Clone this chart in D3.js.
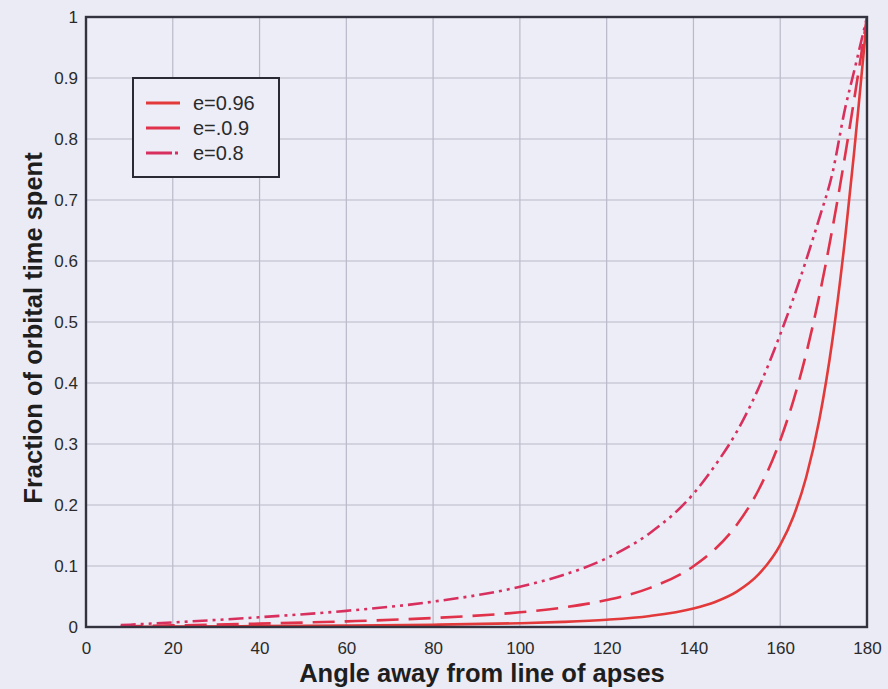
<!DOCTYPE html>
<html><head><meta charset="utf-8">
<script src="https://cdn.jsdelivr.net/npm/d3@7"></script>
<style>
html,body{margin:0;padding:0;background:#ebebf5;}
svg{display:block;font-family:"Liberation Sans",Arial,sans-serif;}
</style></head>
<body><svg id="c" width="888" height="689"></svg>
<script>
// Angles (degrees) at which the curves were read
const angles = [8,20,40,60,80,100,110,120,130,140,145,150,155,160,163,166,169,172,175,177,178,179,180];
// Fraction of orbital time spent, per eccentricity
const e096 = [0.0003,0.0006,0.0014,0.0023,0.0037,0.0062,0.0084,0.0119,0.0181,0.0303,0.0411,0.0580,0.0861,0.1346,0.1804,0.2459,0.3392,0.4689,0.6403,0.7762,0.8490,0.9240,1.0];
const e090 = [0.0010,0.0026,0.0055,0.0093,0.0147,0.0241,0.0320,0.0442,0.0641,0.0996,0.1279,0.1677,0.2246,0.3060,0.3704,0.4487,0.5426,0.6519,0.7750,0.8631,0.9083,0.9540,1.0];
const e080 = [0.0030,0.0075,0.0160,0.0265,0.0415,0.0660,0.0852,0.1128,0.1542,0.2184,0.2650,0.3203,0.3915,0.4797,0.5380,0.6020,0.6700,0.7430,0.8515,0.9103,0.9401,0.9700,1.0];
const seriesNames = ["e=0.96","e=.0.9","e=0.8"];
const xTicks = [0,20,40,60,80,100,120,140,160,180];
const yTicks = [0,0.1,0.2,0.3,0.4,0.5,0.6,0.7,0.8,0.9,1];

const series = [
  {name:seriesNames[0], values:e096, color:"#e23a3a", dash:null},
  {name:seriesNames[1], values:e090, color:"#e0324a", dash:"22,10"},
  {name:seriesNames[2], values:e080, color:"#d8305e", dash:"15,5,3,5,3,5"}
];

const svg = d3.select("#c");
const L=86, R=867, T=17, B=627;
const x = d3.scaleLinear().domain([0,180]).range([L,R]);
const y = d3.scaleLinear().domain([0,1]).range([B,T]);

// plot background
svg.append("rect").attr("x",L).attr("y",T).attr("width",R-L).attr("height",B-T).attr("fill","#ededf7");

// grid
svg.append("g").selectAll("line").data(xTicks.slice(1,-1)).join("line")
  .attr("x1",d=>x(d)).attr("x2",d=>x(d)).attr("y1",T).attr("y2",B)
  .attr("stroke","#b9b9c9").attr("stroke-width",1.2);
svg.append("g").selectAll("line").data(yTicks.slice(1,-1)).join("line")
  .attr("y1",d=>y(d)).attr("y2",d=>y(d)).attr("x1",L).attr("x2",R)
  .attr("stroke","#b9b9c9").attr("stroke-width",1.2);

// axes
const xAxis = d3.axisBottom(x).tickValues(xTicks).tickSize(0).tickPadding(15).tickFormat(d3.format("d"));
const gx = svg.append("g").attr("transform",`translate(0,${B})`).call(xAxis);
gx.select(".domain").remove();
gx.selectAll("text").attr("font-size",17).attr("fill","#2a2a2a").attr("font-family","Liberation Sans, Arial, sans-serif");
const yAxis = d3.axisLeft(y).tickValues(yTicks).tickSize(0).tickPadding(8).tickFormat(d=>d===0?"0":d===1?"1":d3.format(".1f")(d));
const gy = svg.append("g").attr("transform",`translate(${L},0)`).call(yAxis);
gy.select(".domain").remove();
gy.selectAll("text").attr("font-size",17).attr("fill","#2a2a2a").attr("font-family","Liberation Sans, Arial, sans-serif");

// lines
const line = d3.line().x((d,i)=>x(angles[i])).y(d=>y(d)).curve(d3.curveMonotoneX);
svg.append("clipPath").attr("id","pc").append("rect").attr("x",L).attr("y",T-2).attr("width",R-L).attr("height",B-T+2);
series.forEach(s=>{
  svg.append("path").datum(s.values).attr("d",line)
    .attr("fill","none").attr("stroke",s.color).attr("stroke-width",2.6)
    .attr("stroke-dasharray",s.dash).attr("clip-path","url(#pc)");
});

// frame
svg.append("rect").attr("x",L).attr("y",T).attr("width",R-L).attr("height",B-T)
  .attr("fill","none").attr("stroke","#333340").attr("stroke-width",2.4);

// axis titles
svg.append("text").attr("x",482).attr("y",682).attr("text-anchor","middle")
  .attr("font-size",25.5).attr("font-weight","bold").attr("fill","#1e1e1e").text("Angle away from line of apses");
svg.append("text").attr("transform",`translate(42,328) rotate(-90)`).attr("text-anchor","middle")
  .attr("font-size",25.5).attr("font-weight","bold").attr("fill","#1e1e1e").text("Fraction of orbital time spent");

// legend
const lg = svg.append("g");
lg.append("rect").attr("x",133).attr("y",78).attr("width",146).attr("height",99)
  .attr("fill","#ededf7").attr("stroke","#2a2a34").attr("stroke-width",2);
series.forEach((s,i)=>{
  const yy = 103 + i*25;
  lg.append("line").attr("x1",146).attr("x2",180).attr("y1",yy).attr("y2",yy)
    .attr("stroke",s.color).attr("stroke-width",2.8)
    .attr("stroke-dasharray", i===2 ? "26,3,3,10" : null);
  lg.append("text").attr("x",193).attr("y",yy+7).attr("font-size",20).attr("fill","#2a2a2a").text(s.name);
});
</script></body></html>
